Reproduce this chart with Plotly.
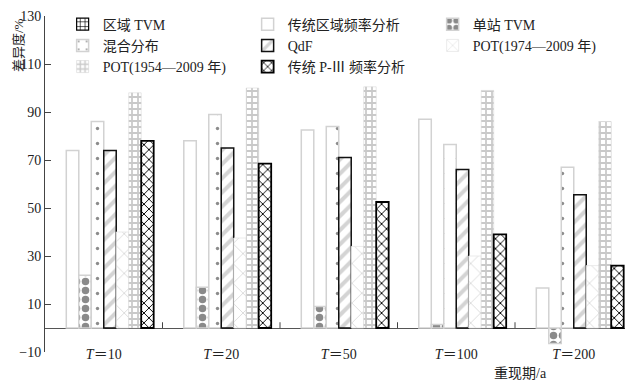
import plotly.graph_objects as go

categories = ["<i>T</i>＝10", "<i>T</i>＝20", "<i>T</i>＝50", "<i>T</i>＝100", "<i>T</i>＝200"]

series_names = [
    "区域 TVM",
    "传统区域频率分析",
    "单站 TVM",
    "混合分布",
    "QdF",
    "POT(1974—2009 年)",
    "POT(1954—2009 年)",
    "传统 P-Ⅲ 频率分析",
]

regional_tvm = [None, None, None, None, None]  # reference series: no bar drawn
trad_regional = [74, 78, 82.5, 87, 16.7]
single_tvm = [22, 17, 9, 1.5, -6.5]
mixed_dist = [86, 89, 84, 76.5, 67]
qdf = [74, 75, 71, 66, 55.5]
pot_1974 = [40, 37.5, 34, 30, 26]
pot_1954 = [98, 100, 100.5, 99, 86]
p3 = [78, 68.5, 52.5, 39, 26]

y_ticks = [-10, 10, 30, 50, 70, 90, 110, 130]

values = [regional_tvm, trad_regional, single_tvm, mixed_dist, qdf, pot_1974, pot_1954, p3]

styles = [
    dict(shape="+", fg="#000000", bg="white", size=6, sol=0.25, line="#000000", lw=1.2),
    dict(shape="", fg="#ffffff", bg="white", size=8, sol=0.3, line="#d2d2d2", lw=1.5),
    dict(shape=".", fg="#8a8a8a", bg="white", size=9, sol=0.55, line="#d2d2d2", lw=1.5),
    dict(shape=".", fg="#8c8c8c", bg="white", size=15, sol=0.04, line="#d2d2d2", lw=1.5),
    dict(shape="/", fg="#d4d4d4", bg="white", size=10, sol=0.4, line="#111111", lw=1.5),
    dict(shape="x", fg="#d8d8d8", bg="white", size=14, sol=0.12, line="#e6e6e6", lw=0.8),
    dict(shape="+", fg="#c9c9c9", bg="white", size=6, sol=0.5, line="#d0d0d0", lw=0.5),
    dict(shape="x", fg="#000000", bg="white", size=7, sol=0.25, line="#000000", lw=1.8),
]

FONT = "Liberation Serif, Noto Sans CJK SC, serif"

fig = go.Figure()
for name, vals, st in zip(series_names, values, styles):
    fig.add_trace(go.Bar(
        x=categories, y=vals, name=name,
        marker=dict(
            color=st["bg"],
            line=dict(color=st["line"], width=st["lw"]),
            pattern=dict(shape=st["shape"], fgcolor=st["fg"], bgcolor=st["bg"],
                         size=st["size"], solidity=st["sol"], fillmode="replace"),
        ),
    ))

# boundary ticks on the zero line, pointing up
shapes = []
for i in range(len(categories)):
    shapes.append(dict(type="line", xref="x", yref="y", x0=i + 0.5, x1=i + 0.5,
                       y0=0, y1=2.4, line=dict(color="#444", width=1)))

# the page body adds an 8px offset, so the figure is 8px smaller than the window
fig.update_layout(
    width=625, height=374,
    margin=dict(l=37, r=0, t=8, b=30, autoexpand=False),
    paper_bgcolor="white", plot_bgcolor="white",
    font=dict(family=FONT, size=14, color="#222"),
    barmode="group", bargap=0.15, bargroupgap=0,
    showlegend=True,
    legend=dict(orientation="h", x=0.03, y=1.022, xanchor="left", yanchor="top",
                entrywidth=140, entrywidthmode="pixels", bgcolor="rgba(0,0,0,0)",
                font=dict(family=FONT, size=14), traceorder="normal"),
    shapes=shapes,
    annotations=[
        dict(text="差异度/%", xref="paper", yref="paper", x=-0.045, y=0.912,
             xanchor="center", yanchor="middle",
             textangle=-90, showarrow=False, font=dict(family=FONT, size=13)),
        dict(text="重现期/a", xref="paper", yref="paper", x=0.808, y=-0.063,
             xanchor="center", yanchor="middle",
             showarrow=False, font=dict(family=FONT, size=14)),
    ],
)
fig.update_xaxes(showline=False, showgrid=False, ticks="", ticklabelstandoff=-8,
                 tickfont=dict(family=FONT, size=14))
fig.update_yaxes(range=[-10, 130], tickvals=y_ticks, ticks="inside", ticklen=6,
                 tickcolor="#444", showline=True, linecolor="#444", linewidth=1,
                 showgrid=False, zeroline=True, zerolinecolor="#555", zerolinewidth=1,
                 ticklabeloverflow="allow",
                 tickfont=dict(family=FONT, size=14))

fig.write_html("out.html")
